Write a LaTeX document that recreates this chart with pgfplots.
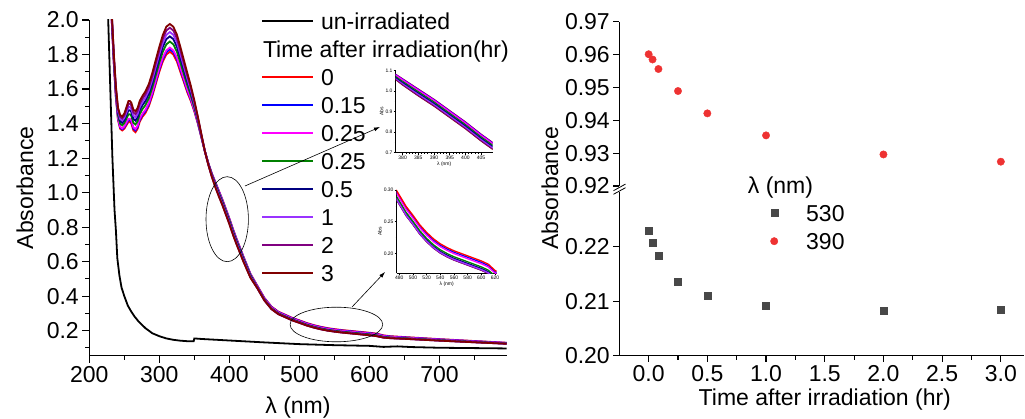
\documentclass[border=0pt]{standalone}
\usepackage{pgfplots}
\pgfplotsset{compat=1.18}
\usepackage{pgfplotstable}
\usepackage{fontspec}
\setmainfont{Liberation Sans}
\usetikzlibrary{arrows.meta}

\definecolor{c0}{RGB}{255,0,0}
\definecolor{c1}{RGB}{0,0,255}
\definecolor{c2}{RGB}{255,0,255}
\definecolor{c3}{RGB}{0,128,0}
\definecolor{c4}{RGB}{0,0,128}
\definecolor{c5}{RGB}{153,51,255}
\definecolor{c6}{RGB}{128,0,128}
\definecolor{c7}{RGB}{128,0,0}
\definecolor{sqc}{RGB}{72,72,72}
\definecolor{circc}{RGB}{238,50,50}

% spectra after irradiation: lambda, then t = 0, 0.15, 0.25, 0.25, 0.5, 1, 2, 3 hr
\pgfplotstableread{
lam c0 c1 c2 c3 c4 c5 c6 c7
228 2.3000 2.3042 2.3072 2.3177 2.3267 2.3342 2.3417 2.3483
232 2.0000 2.0042 2.0072 2.0177 2.0267 2.0342 2.0417 2.0483
235 1.7500 1.7549 1.7584 1.7707 1.7812 1.7899 1.7987 1.8064
238 1.5500 1.5556 1.5596 1.5736 1.5856 1.5956 1.6056 1.6144
241 1.4200 1.4263 1.4308 1.4466 1.4601 1.4713 1.4826 1.4925
244 1.3700 1.3770 1.3820 1.3995 1.4145 1.4270 1.4395 1.4505
247 1.3600 1.3670 1.3720 1.3895 1.4045 1.4170 1.4295 1.4405
250 1.3700 1.3777 1.3832 1.4025 1.4190 1.4327 1.4465 1.4586
253 1.3900 1.3991 1.4056 1.4284 1.4479 1.4641 1.4804 1.4947
256 1.4100 1.4205 1.4280 1.4543 1.4768 1.4955 1.5143 1.5308
258 1.4100 1.4205 1.4280 1.4543 1.4768 1.4955 1.5143 1.5308
260 1.4000 1.4105 1.4180 1.4443 1.4668 1.4855 1.5043 1.5208
263 1.3600 1.3705 1.3780 1.4043 1.4268 1.4455 1.4643 1.4808
266 1.3500 1.3605 1.3680 1.3943 1.4168 1.4355 1.4543 1.4708
269 1.3700 1.3805 1.3880 1.4143 1.4368 1.4555 1.4743 1.4908
272 1.4100 1.4205 1.4280 1.4543 1.4768 1.4955 1.5143 1.5308
276 1.4400 1.4505 1.4580 1.4843 1.5068 1.5255 1.5443 1.5608
280 1.4600 1.4709 1.4787 1.5060 1.5294 1.5489 1.5684 1.5856
285 1.5000 1.5112 1.5192 1.5472 1.5712 1.5912 1.6112 1.6288
290 1.5600 1.5716 1.5799 1.6090 1.6339 1.6546 1.6754 1.6936
295 1.6300 1.6422 1.6509 1.6813 1.7074 1.7292 1.7509 1.7701
300 1.7000 1.7126 1.7216 1.7531 1.7801 1.8026 1.8251 1.8449
305 1.7600 1.7733 1.7828 1.8161 1.8446 1.8683 1.8921 1.9130
310 1.8000 1.8140 1.8240 1.8590 1.8890 1.9140 1.9390 1.9610
315 1.8160 1.8300 1.8400 1.8750 1.9050 1.9300 1.9550 1.9770
320 1.8000 1.8140 1.8240 1.8590 1.8890 1.9140 1.9390 1.9610
325 1.7600 1.7736 1.7833 1.8172 1.8463 1.8706 1.8948 1.9162
330 1.7000 1.7126 1.7216 1.7531 1.7801 1.8026 1.8251 1.8449
335 1.6400 1.6512 1.6592 1.6872 1.7112 1.7312 1.7512 1.7688
340 1.5800 1.5898 1.5968 1.6213 1.6423 1.6598 1.6773 1.6927
345 1.5300 1.5377 1.5432 1.5625 1.5790 1.5927 1.6065 1.6186
350 1.4700 1.4756 1.4796 1.4936 1.5056 1.5156 1.5256 1.5344
355 1.4000 1.4035 1.4060 1.4148 1.4223 1.4285 1.4348 1.4403
360 1.3200 1.3217 1.3229 1.3271 1.3307 1.3337 1.3367 1.3393
365 1.2400 1.2400 1.2400 1.2400 1.2400 1.2400 1.2400 1.2400
370 1.1700 1.1695 1.1686 1.1666 1.1646 1.1626 1.1608 1.1602
375 1.1100 1.1090 1.1073 1.1033 1.0992 1.0952 1.0917 1.0904
380 1.0600 1.0586 1.0559 1.0499 1.0438 1.0378 1.0325 1.0306
385 1.0100 1.0084 1.0055 0.9988 0.9920 0.9853 0.9795 0.9773
390 0.9601 0.9585 0.9556 0.9489 0.9421 0.9354 0.9296 0.9274
395 0.9050 0.9034 0.9005 0.8938 0.8870 0.8803 0.8745 0.8723
400 0.8500 0.8484 0.8455 0.8388 0.8320 0.8253 0.8195 0.8173
405 0.7900 0.7884 0.7855 0.7788 0.7720 0.7653 0.7595 0.7573
410 0.7350 0.7334 0.7305 0.7238 0.7170 0.7103 0.7045 0.7023
420 0.6300 0.6286 0.6259 0.6199 0.6138 0.6078 0.6025 0.6006
430 0.5300 0.5289 0.5268 0.5222 0.5174 0.5127 0.5086 0.5071
440 0.4600 0.4578 0.4555 0.4506 0.4481 0.4463 0.4454 0.4455
450 0.3900 0.3878 0.3855 0.3806 0.3781 0.3763 0.3754 0.3755
460 0.3400 0.3378 0.3355 0.3306 0.3281 0.3263 0.3254 0.3255
470 0.3100 0.3078 0.3055 0.3006 0.2981 0.2963 0.2954 0.2955
480 0.2920 0.2898 0.2875 0.2826 0.2801 0.2783 0.2774 0.2775
490 0.2740 0.2718 0.2695 0.2646 0.2621 0.2603 0.2594 0.2595
500 0.2600 0.2578 0.2555 0.2506 0.2481 0.2463 0.2454 0.2455
510 0.2450 0.2428 0.2405 0.2356 0.2331 0.2313 0.2304 0.2305
520 0.2330 0.2308 0.2285 0.2236 0.2211 0.2193 0.2184 0.2185
530 0.2229 0.2207 0.2184 0.2135 0.2110 0.2092 0.2083 0.2084
540 0.2150 0.2128 0.2105 0.2056 0.2031 0.2013 0.2004 0.2005
550 0.2090 0.2068 0.2045 0.1996 0.1971 0.1953 0.1944 0.1945
560 0.2040 0.2018 0.1995 0.1946 0.1921 0.1903 0.1894 0.1895
580 0.1960 0.1938 0.1915 0.1866 0.1841 0.1823 0.1814 0.1815
600 0.1880 0.1858 0.1835 0.1786 0.1761 0.1743 0.1734 0.1735
610 0.1830 0.1808 0.1785 0.1736 0.1711 0.1693 0.1684 0.1685
620 0.1730 0.1710 0.1689 0.1645 0.1623 0.1607 0.1599 0.1599
630 0.1680 0.1662 0.1644 0.1605 0.1585 0.1570 0.1563 0.1564
650 0.1630 0.1615 0.1598 0.1564 0.1547 0.1534 0.1528 0.1528
700 0.1510 0.1497 0.1483 0.1454 0.1439 0.1428 0.1422 0.1423
750 0.1400 0.1389 0.1377 0.1353 0.1340 0.1331 0.1327 0.1327
796 0.1300 0.1291 0.1282 0.1262 0.1252 0.1245 0.1242 0.1242
}\spec

% un-irradiated spectrum
\pgfplotstableread{
lam A
224 2.40
227 2.00
230 1.60
233 1.20
236 0.90
238 0.78
240 0.62
243 0.52
246 0.45
250 0.40
255 0.345
260 0.31
265 0.28
270 0.255
280 0.215
290 0.185
300 0.168
310 0.155
320 0.147
330 0.142
340 0.139
349 0.139
350 0.155
360 0.152
400 0.143
450 0.132
500 0.122
550 0.116
600 0.112
620 0.106
640 0.109
660 0.105
700 0.101
750 0.099
796 0.097
}\unirr

% absorbance vs time, 530 nm
\pgfplotstableread{
t A
0 0.2229
0.0333 0.2207
0.0833 0.2184
0.25 0.2135
0.5 0.2110
1 0.2092
2 0.2083
3 0.2084
}\tabA
% absorbance vs time, 390 nm
\pgfplotstableread{
t A
0 0.9601
0.0333 0.9585
0.0833 0.9556
0.25 0.9489
0.5 0.9421
1 0.9354
2 0.9296
3 0.9274
}\tabB

\pgfplotsset{
  mainax/.style={
    scale only axis,
    axis x line*=bottom, axis y line*=left,
    axis line style={line width=1.1pt,-},
    every tick/.style={line width=1.1pt, black},
    tick align=outside,
    major tick length=7pt, minor tick length=4pt,
    /pgf/number format/assume math mode=true,
    tick label style={font=\fontsize{23}{27}\selectfont},
    label style={font=\fontsize{23}{27}\selectfont},
  },
  insetax/.style={
    scale only axis,
    axis x line*=bottom, axis y line*=left,
    axis line style={line width=0.6pt,-},
    every tick/.style={line width=0.5pt, black},
    tick align=outside,
    major tick length=2pt, minor tick length=1.2pt,
    /pgf/number format/assume math mode=true,
    tick label style={font=\fontsize{5}{6}\selectfont, inner sep=1pt},
    label style={font=\fontsize{5}{6}\selectfont, inner sep=1pt},
  },
}

\begin{document}
\begin{tikzpicture}
\useasboundingbox (0pt,0pt) rectangle (1025pt,419pt);

% ---------------- left: spectra ----------------
\begin{axis}[mainax,
  at={(89.3pt,63.3pt)}, anchor=south west,
  width=417.4pt, height=335.7pt,
  xmin=200, xmax=796, ymin=0.055, ymax=2.0,
  xtick={200,300,400,500,600,700},
  minor xtick={250,350,450,550,650,750},
  ytick={0.2,0.4,0.6,0.8,1.0,1.2,1.4,1.6,1.8,2.0},
  minor ytick={0.1,0.3,0.5,0.7,0.9,1.1,1.3,1.5,1.7,1.9},
  yticklabel style={/pgf/number format/fixed, /pgf/number format/fixed zerofill, /pgf/number format/precision=1},
  xlabel={λ (nm)},
  xlabel style={at={(axis description cs:0.5,0)}, anchor=center, yshift=-51.7pt},
  ylabel={Absorbance},
  ylabel style={at={([xshift=-64.3pt]axis description cs:0,0.5)}, anchor=center},
  legend style={draw=none, fill=none, inner sep=0pt,
    at={(axis description cs:0.4114,1.0387)}, anchor=north west,
    font=\fontsize{23}{27}\selectfont, row sep=0pt, column sep=7pt,
    nodes={inner sep=0pt, text height=22.2pt, text depth=5.8pt}},
  legend cell align=left,
  legend image code/.code={\draw[#1] (0pt,0pt) -- (51pt,0pt);},
]
\addplot[black, line width=1.8pt] table[x=lam, y=A] {\unirr};
\addlegendentry{un-irradiated}
\addlegendimage{empty legend}
\addlegendentry{\hspace*{-58pt}Time after irradiation(hr)}
\addplot[c0, line width=1.8pt] table[x=lam, y=c0] {\spec};
\addlegendentry{0}
\addplot[c1, line width=1.8pt] table[x=lam, y=c1] {\spec};
\addlegendentry{0.15}
\addplot[c2, line width=1.8pt] table[x=lam, y=c2] {\spec};
\addlegendentry{0.25}
\addplot[c3, line width=1.8pt] table[x=lam, y=c3] {\spec};
\addlegendentry{0.25}
\addplot[c4, line width=1.8pt] table[x=lam, y=c4] {\spec};
\addlegendentry{0.5}
\addplot[c5, line width=1.8pt] table[x=lam, y=c5] {\spec};
\addlegendentry{1}
\addplot[c6, line width=1.8pt] table[x=lam, y=c6] {\spec};
\addlegendentry{2}
\addplot[c7, line width=1.8pt] table[x=lam, y=c7] {\spec};
\addlegendentry{3}
\end{axis}

% ---------------- inset 1 ----------------
\begin{axis}[insetax,
  at={(395.7pt,266.3pt)}, anchor=south west,
  width=97pt, height=82pt,
  xmin=377.8, xmax=408.7, ymin=0.7, ymax=1.1,
  xtick={380,385,390,395,400,405}, minor x tick num=4,
  ytick={0.7,0.8,0.9,1.0,1.1}, minor y tick num=1,
  yticklabel style={/pgf/number format/fixed, /pgf/number format/fixed zerofill, /pgf/number format/precision=1},
  xlabel={λ (nm)}, ylabel={Abs},
]
\addplot[c0, line width=1.3pt] table[x=lam, y=c0] {\spec};
\addplot[c7, line width=1.3pt] table[x=lam, y=c7] {\spec};
\addplot[c6, line width=1.3pt] table[x=lam, y=c6] {\spec};
\addplot[c5, line width=1.3pt] table[x=lam, y=c5] {\spec};
\addplot[c4, line width=1.3pt] table[x=lam, y=c4] {\spec};
\addplot[c3, line width=1.3pt] table[x=lam, y=c3] {\spec};
\addplot[c1, line width=1.3pt] table[x=lam, y=c1] {\spec};
\addplot[c2, line width=1.3pt] table[x=lam, y=c2] {\spec};
\end{axis}

% ---------------- inset 2 ----------------
\begin{axis}[insetax,
  at={(396.7pt,145.7pt)}, anchor=south west,
  width=100pt, height=83.3pt,
  xmin=476.2, xmax=622.5, ymin=0.1685, ymax=0.30,
  xtick={480,500,520,540,560,580,600,620}, minor x tick num=1,
  ytick={0.20,0.25,0.30}, minor y tick num=1,
  yticklabel style={/pgf/number format/fixed, /pgf/number format/fixed zerofill, /pgf/number format/precision=2},
  xlabel={λ (nm)}, ylabel={Abs},
]
\addplot[c7, line width=1.3pt] table[x=lam, y=c7] {\spec};
\addplot[c6, line width=1.3pt] table[x=lam, y=c6] {\spec};
\addplot[c4, line width=1.3pt] table[x=lam, y=c4] {\spec};
\addplot[c3, line width=1.3pt] table[x=lam, y=c3] {\spec};
\addplot[c5, line width=1.3pt] table[x=lam, y=c5] {\spec};
\addplot[c1, line width=1.3pt] table[x=lam, y=c1] {\spec};
\addplot[c2, line width=1.3pt] table[x=lam, y=c2] {\spec};
\addplot[c0, line width=1.3pt] table[x=lam, y=c0] {\spec};
\end{axis}

% annotations
\draw[line width=0.6pt] (227.2pt,199.8pt) ellipse [x radius=21.2pt, y radius=42.5pt];
\draw[line width=0.6pt, -{Latex[length=6pt,width=4pt]}] (245pt,233pt) -- (380pt,292pt);
\draw[line width=0.6pt] (336.4pt,94.5pt) ellipse [x radius=46.3pt, y radius=17.3pt];
\draw[line width=0.6pt, -{Latex[length=6pt,width=4pt]}] (352pt,112pt) -- (385pt,147pt);

% ---------------- right: upper part (390 nm) ----------------
\begin{axis}[mainax,
  at={(619.3pt,233pt)}, anchor=south west,
  width=405pt, height=164.3pt,
  xmin=-0.25, xmax=3.2, ymin=0.92, ymax=0.97,
  axis x line=none, xtick=\empty,
  major tick length=6pt,
  ytick={0.92,0.93,0.94,0.95,0.96,0.97},
  yticklabel style={/pgf/number format/fixed, /pgf/number format/fixed zerofill, /pgf/number format/precision=2},
]
\addplot[only marks, mark=*, mark size=3.7pt, circc, mark options={draw=circc, fill=circc}] table[x=t, y=A] {\tabB};
\end{axis}

% ---------------- right: lower part (530 nm) ----------------
\begin{axis}[mainax,
  at={(619.3pt,63.3pt)}, anchor=south west,
  width=405pt, height=163.5pt,
  xmin=-0.25, xmax=3.2, ymin=0.20, ymax=0.23,
  major tick length=6pt,
  xtick={0,0.5,1,1.5,2,2.5,3},
  minor xtick={0.25,0.75,1.25,1.75,2.25,2.75},
  xticklabel style={/pgf/number format/fixed, /pgf/number format/fixed zerofill, /pgf/number format/precision=1},
  ytick={0.20,0.21,0.22},
  yticklabel style={/pgf/number format/fixed, /pgf/number format/fixed zerofill, /pgf/number format/precision=2},
  xlabel={Time after irradiation (hr)},
  xlabel style={at={([xshift=3pt]axis description cs:0.5,0)}, anchor=center, yshift=-43.4pt},
  ylabel={Absorbance},
  ylabel style={at={([xshift=-69.3pt]axis description cs:0,1.0239)}, anchor=center},
  legend style={draw=none, fill=none, inner sep=0pt,
    at={(axis description cs:0.3622,1.1297)}, anchor=north west,
    font=\fontsize{23}{27}\selectfont, row sep=0pt, column sep=14pt,
    nodes={inner sep=0pt, text height=22.2pt, text depth=5.8pt}},
  legend cell align=left,
  legend image code/.code={\draw[#1, /tikz/only marks] plot coordinates {(8pt,0pt)}; \path[draw=none] (0pt,0pt) (26pt,0pt);},
]
\addlegendimage{empty legend}
\addlegendentry{\hspace*{-58.3pt}λ (nm)}
\addplot[only marks, mark=square*, mark size=3.5pt, sqc, mark options={draw=sqc, fill=sqc}] table[x=t, y=A] {\tabA};
\addlegendentry{530}
\addlegendimage{only marks, mark=*, mark size=3.7pt, circc, mark options={draw=circc, fill=circc}}
\addlegendentry{390}
\end{axis}

% axis break marks
\draw[line width=0.8pt] (613.5pt,224.7pt) -- (625.5pt,231.3pt);
\draw[line width=0.8pt] (613.5pt,228.3pt) -- (625.5pt,234.9pt);
\end{tikzpicture}
\end{document}
